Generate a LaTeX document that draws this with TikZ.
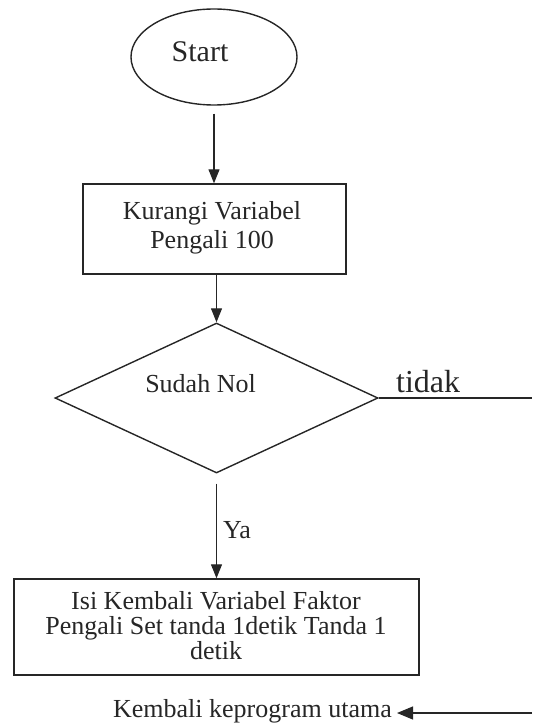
\documentclass[tikz,border=0pt]{standalone}
\usepackage{fontspec}
\setmainfont{Liberation Serif}
\usetikzlibrary{shapes.geometric,arrows.meta}
\begin{document}
\begin{tikzpicture}[x=1pt,y=-1pt,
  shapeline/.style={draw=black!85, line width=1.4pt, inner sep=0pt},
  conn/.style={draw=black!85, line width=1.1pt},
  arr/.style={conn, -{Triangle[length=14pt,width=11pt]}},
  txt/.style={font=\fontsize{26}{26}\selectfont, inner sep=0pt, text=black!85},
]
\useasboundingbox (0,0) rectangle (532,727);
% Start
\node[shapeline, ellipse, minimum width=166pt, minimum height=96pt] (start) at (214,57) {};
\node[txt, font=\fontsize{30}{30}\selectfont, anchor=base] (starttxt) at (200,62) {Start};
% Box 1
\node[shapeline, rectangle, minimum width=263pt, minimum height=90pt] (box1) at (214.5,229) {};
\node[txt, align=center, font=\fontsize{26}{29}\selectfont] (box1txt) at (212,228) {Kurangi Variabel\\Pengali 100};
% Decision
\node[shapeline, diamond, minimum width=323pt, minimum height=150pt] (dec) at (216.5,398) {};
\node[txt, anchor=base] (dectxt) at (200.5,392) {Sudah Nol};
% tidak
\coordinate (tidakend) at (532,398);
\node[txt, font=\fontsize{32}{32}\selectfont, anchor=base west] (tidak) at (396,392) {tidak};
% Box 3
\node[shapeline, rectangle, minimum width=405pt, minimum height=96pt] (box3) at (216.5,627) {};
\node[txt, align=center, font=\fontsize{26}{25}\selectfont] (box3txt) at (216,626) {Isi Kembali Variabel Faktor\\Pengali Set tanda 1detik Tanda 1\\detik};
% Ya
\node[txt, anchor=base west] (ya) at (223,538) {Ya};
% Kembali
\node[txt, anchor=base east] (kembali) at (392,717) {Kembali keprogram utama};
\coordinate (kembalistart) at (532,713);
% connectors
\draw[arr, shorten <=8pt] (start.south) -- (start.south |- box1.north);
\draw[arr] (dec.north |- box1.south) -- (dec.north);
\draw[conn] (dec.east) -- (tidakend);
\draw[arr, shorten <=10pt] (dec.south) -- (dec.south |- box3.north);
\draw[arr, -{Triangle[length=16pt,width=13pt]}] (kembalistart) -- ([xshift=5pt]kembali.east |- kembalistart);
\end{tikzpicture}
\end{document}
